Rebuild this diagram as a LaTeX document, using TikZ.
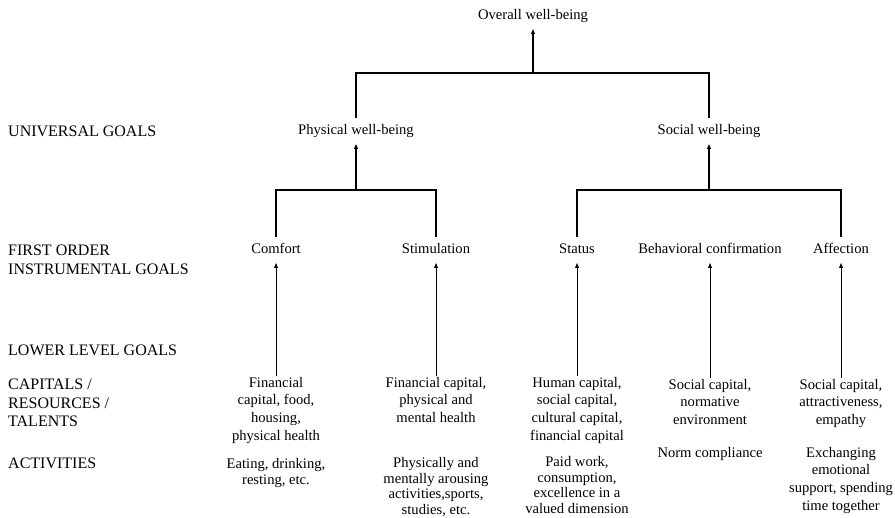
\documentclass[tikz,border=0pt]{standalone}
\usepackage{fontspec}
\setmainfont{Liberation Serif}
\usetikzlibrary{arrows.meta,positioning}

\begin{document}
\begin{tikzpicture}[x=1pt,y=-1pt,>={Triangle[length=5pt,width=3.8pt]},
  font=\fontsize{14.6}{17.6}\selectfont,
  goal/.style={inner sep=0pt,text height=10.5pt,text depth=3.5pt,outer sep=6pt},
  info/.style={anchor=north,align=center,inner sep=1pt},
  act/.style={info,font=\fontsize{14.6}{15.8}\selectfont},
  rowlabel/.style={anchor=west,align=left,inner sep=0pt,
    font=\fontsize{16}{18.6}\selectfont},
  stem/.style={line width=1.6pt},
  bar/.style={line width=1.2pt},
  feed/.style={line width=0.8pt}]
  \useasboundingbox (0,0) rectangle (895,518);
  % row labels
  \node[rowlabel] (lbluniv) at (8,131) {UNIVERSAL GOALS};
  \node[rowlabel] (lblfirst) at (8,259.5) {FIRST ORDER\\INSTRUMENTAL GOALS};
  \node[rowlabel] (lbllower) at (8,350) {LOWER LEVEL GOALS};
  \node[rowlabel,anchor=north west] (lblcap) at (8,379) {CAPITALS /\\RESOURCES /\\TALENTS};
  \node[rowlabel] (lblact) at (8,463) {ACTIVITIES};
  % goals
  \node[goal] (overall) at (533,16) {Overall well-being};
  \node[goal] (phys) at (356,131) {Physical well-being};
  \node[goal] (soc) at (709,131) {Social well-being};
  \node[goal] (comfort) at (276,250) {Comfort};
  \node[goal] (stim) at (436,250) {Stimulation};
  \node[goal] (status) at (577,250) {Status};
  \node[goal] (behav) at (710,250) {Behavioral confirmation};
  \node[goal] (affect) at (841,250) {Affection};
  % capitals
  \node[info] (capcomfort) at (276,376) {Financial\\capital, food,\\housing,\\physical health};
  \node[info] (capstim) at (436,376) {Financial capital,\\physical and\\mental health};
  \node[info] (capstatus) at (577,376) {Human capital,\\social capital,\\cultural capital,\\financial capital};
  \node[info] (capbehav) at (710,378) {Social capital,\\normative\\environment};
  \node[info] (capaffect) at (841,378) {Social capital,\\attractiveness,\\empathy};
  % activities
  \node[act] (actcomfort) at (276,457) {Eating, drinking,\\resting, etc.};
  \node[act] (actstim) at (436,456) {Physically and\\mentally arousing\\activities,sports,\\studies, etc.};
  \node[act] (actstatus) at (577,455) {Paid work,\\consumption,\\excellence in a\\valued dimension};
  \node[info] (actbehav) at (710,446) {Norm compliance};
  \node[info] (actaffect) at (841,446) {Exchanging\\emotional\\support, spending\\time together};
  % tree
  \coordinate (topbar) at (533,73);
  \coordinate (physbar) at (356,190);
  \coordinate (socbar) at (709,190);
  \draw[bar] (phys.north) |- (topbar) -| (soc.north);
  \draw[stem,->] (topbar) -- (overall.south);
  \draw[bar] (comfort.north) |- (physbar) -| (stim.north);
  \draw[stem,->] (physbar) -- (phys.south);
  \draw[bar] (status.north) |- (socbar) -| (affect.north);
  \draw[stem,->] (socbar) -- (soc.south);
  \draw[feed,->] (capcomfort.north) -- (comfort.south);
  \draw[feed,->] (capstim.north) -- (stim.south);
  \draw[feed,->] (capstatus.north) -- (status.south);
  \draw[feed,->] (capbehav.north) -- (behav.south);
  \draw[feed,->] (capaffect.north) -- (affect.south);
\end{tikzpicture}
\end{document}
